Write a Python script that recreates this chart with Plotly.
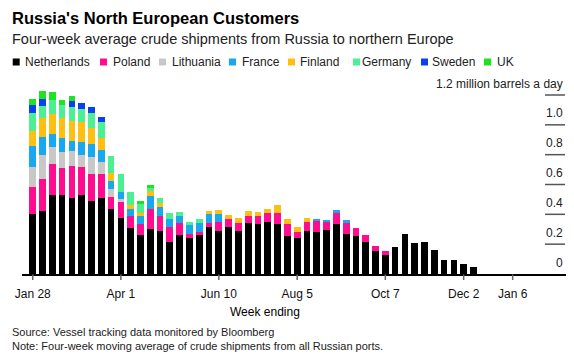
import pandas as pd
import plotly.graph_objects as go

# ---------------- data ----------------
weeks = pd.date_range("2022-01-28", periods=46, freq="7D")

netherlands = [0.400, 0.425, 0.530, 0.530, 0.508, 0.530, 0.490, 0.512, 0.436, 0.374,
               0.311, 0.262, 0.302, 0.289, 0.215, 0.262, 0.244, 0.262, 0.318, 0.291,
               0.318, 0.291, 0.340, 0.336, 0.351, 0.336, 0.257, 0.239, 0.291, 0.280,
               0.295, 0.336, 0.268, 0.255, 0.213, 0.157, 0.128, 0.179, 0.270, 0.210,
               0.215, 0.161, 0.094, 0.094, 0.065, 0.045]
poland = [0.186, 0.213, 0.208, 0.183, 0.213, 0.190, 0.181, 0.159, 0.078, 0.107,
          0.078, 0.072, 0.134, 0.103, 0.103, 0.078, 0.025, 0.022, 0.022, 0.056,
          0.049, 0.049, 0.051, 0.056, 0.056, 0.076, 0.078, 0.045, 0.056, 0.078,
          0.056, 0.076, 0.078, 0.051, 0.049, 0.029, 0.027, 0, 0, 0,
          0, 0, 0, 0, 0, 0]
lithuania = [0.128, 0.157, 0.112, 0.105, 0.105, 0.078, 0.112, 0.078, 0.054, 0.020] + [0] * 36
france = [0.145, 0.121, 0.089, 0.092, 0.067, 0.089, 0.089, 0.081, 0.056, 0.049,
          0.047, 0.056, 0.087, 0.056, 0.049, 0.051, 0.060, 0.060, 0.060, 0.054,
          0, 0, 0, 0, 0, 0, 0, 0, 0, 0.013,
          0.013, 0.016, 0.013] + [0] * 13
finland = [0.103, 0.130, 0.132, 0.134, 0.130, 0.134, 0.110, 0.081, 0.051, 0,
           0.027, 0.022, 0.034, 0.027, 0, 0, 0, 0, 0.022, 0.027,
           0.029, 0.034, 0.029, 0.025, 0.027, 0.051, 0.031, 0.034, 0.027] + [0] * 17
germany = [0.116, 0.078, 0.096, 0.089, 0.094, 0.083, 0.096, 0.107, 0.119, 0.121,
           0.085, 0.058, 0.022, 0.034, 0.045, 0.022, 0.018, 0.022] + [0] * 28
sweden = [0.056, 0.051, 0, 0, 0.040, 0.040, 0.040, 0.034] + [0] * 38
uk = [0.040, 0.054, 0.056, 0.034, 0.034, 0, 0, 0, 0, 0,
      0, 0.022, 0.018] + [0] * 33

series_names = ["Netherlands", "Poland", "Lithuania", "France", "Finland",
                "Germany", "Sweden", "UK"]
series_values = [netherlands, poland, lithuania, france, finland, germany, sweden, uk]
series_colors = ["#000000", "#ff0d8e", "#c8c8c8", "#18a8f0", "#fdbf12",
                 "#4cef91", "#0b40f2", "#1ee321"]

x_tick_vals = ["2022-01-28", "2022-04-01", "2022-06-10", "2022-08-05",
               "2022-10-07", "2022-12-02", "2023-01-06"]
x_tick_text = ["Jan 28", "Apr 1", "Jun 10", "Aug 5", "Oct 7", "Dec 2", "Jan 6"]
y_tick_vals = [0, 0.2, 0.4, 0.6, 0.8, 1.0, 1.2]
y_tick_text = ["0", "0.2", "0.4", "0.6", "0.8", "1.0", "1.2 million barrels a day"]

# ---------------- layout geometry ----------------
W, H = 574, 359
L, R, T, B = 22, 8, 87, 85
PW = W - L - R
PH = H - T - B
Y_SCALE = 149.17  # pixels per million barrels a day
Y_MAX = PH / Y_SCALE
FONT = "Liberation Sans, Arial, Helvetica, sans-serif"


def px(xp):
    return (xp - L) / PW


def py(yp):
    return (H - B - yp) / PH


fig = go.Figure()
for name, vals, col in zip(series_names, series_values, series_colors):
    fig.add_trace(go.Bar(
        x=weeks, y=vals, name=name,
        marker=dict(color=col, line=dict(width=0)),
        width=4.8 * 86400000,
        hoverinfo="x+y+name",
    ))

# short dashes at the right edge under each y label (drawn on an overlay x axis 0..1)
dash_x, dash_y = [], []
for v in y_tick_vals[1:]:
    dash_x += [px(545), px(565), None]
    dash_y += [v, v, None]
fig.add_trace(go.Scatter(
    x=dash_x, y=dash_y, xaxis="x2", yaxis="y", mode="lines",
    line=dict(color="#555555", width=1.5), hoverinfo="skip", showlegend=False,
))

annotations = [
    dict(text="<b>Russia's North European Customers</b>", x=px(10), y=py(18),
         font=dict(size=16.5, color="#000000")),
    dict(text="Four-week average crude shipments from Russia to northern Europe",
         x=px(10), y=py(39), font=dict(size=14.5, color="#222222")),
    dict(text="Week ending", x=px(265), y=py(312), xanchor="center",
         font=dict(size=12, color="#000000")),
    dict(text="Source: Vessel tracking data monitored by Bloomberg",
         x=px(10), y=py(332), font=dict(size=11, color="#222222")),
    dict(text="Note: Four-week moving average of crude shipments from all Russian ports.",
         x=px(10), y=py(346), font=dict(size=11, color="#222222")),
]

legend_swatch_x = [12.7, 100, 159, 229, 288, 353, 421, 484]
legend_text_x = [25, 113, 172, 242, 300, 362, 432, 497]
shapes = []
for name, col, sx, tx in zip(series_names, series_colors, legend_swatch_x, legend_text_x):
    shapes.append(dict(type="rect", xref="paper", yref="paper",
                       x0=px(sx), x1=px(sx + 7), y0=py(65.5), y1=py(58.5),
                       fillcolor=col, line=dict(width=0)))
    annotations.append(dict(text=name, x=px(tx - 2), y=py(62),
                            font=dict(size=12, color="#222222")))

# x tick marks below the baseline
for d in x_tick_vals:
    shapes.append(dict(type="line", xref="x", yref="paper",
                       x0=d, x1=d, y0=py(274.5), y1=py(280),
                       line=dict(color="#666666", width=1.5)))

# y-axis labels sit above the short dashes
for v, t in zip(y_tick_vals, y_tick_text):
    annotations.append(dict(text=t, yref="y", x=px(565), y=v,
                            xanchor="right", yanchor="middle", yshift=11.5,
                            font=dict(size=12, color="#222222")))

for a in annotations:
    a.setdefault("xref", "paper")
    a.setdefault("yref", "paper")
    a.setdefault("xanchor", "left")
    a.setdefault("yanchor", "middle")
    a.setdefault("showarrow", False)

fig.update_layout(
    width=W, height=H, autosize=False,
    margin=dict(l=L, r=R, t=T, b=B, pad=0),
    paper_bgcolor="white", plot_bgcolor="white",
    barmode="stack", bargap=0.3, showlegend=False,
    font=dict(family=FONT, size=12, color="#222222"),
    annotations=annotations, shapes=shapes,
    xaxis=dict(
        type="date", range=["2022-01-20 08:00", "2023-02-13 03:00"],
        tickvals=x_tick_vals, ticktext=x_tick_text,
        ticks="", ticklabelstandoff=8,
        showline=True, linecolor="#000000", linewidth=1.5,
        showgrid=False, zeroline=False,
        tickfont=dict(size=12, color="#111111"),
    ),
    xaxis2=dict(
        range=[0, 1], overlaying="x", anchor="y", visible=False,
        showgrid=False, zeroline=False,
    ),
    yaxis=dict(
        range=[0, Y_MAX], side="right",
        showticklabels=False, ticks="",
        showgrid=False, zeroline=False, showline=False,
    ),
)

fig.write_html("out.html", config={"displayModeBar": False},
               post_script="document.body.style.margin='0px';")
